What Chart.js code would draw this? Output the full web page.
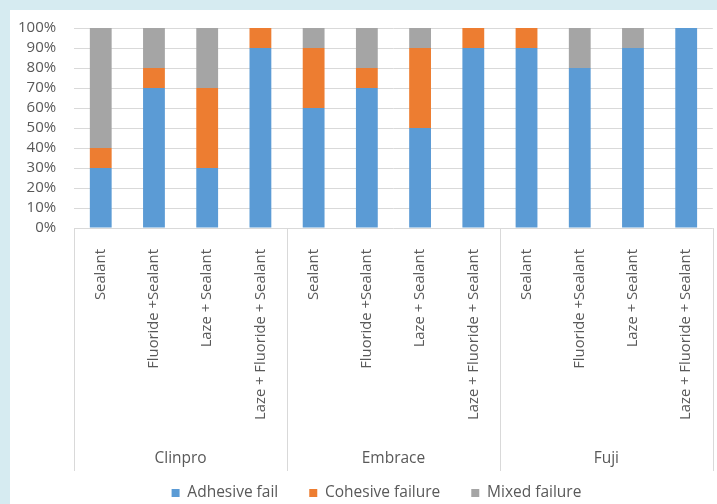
<!DOCTYPE html>
<html>
<head>
<meta charset="utf-8">
<script src="https://cdn.jsdelivr.net/npm/chart.js@4.4.1/dist/chart.umd.min.js"></script>
<style>
  html, body { margin: 0; padding: 0; background: #d6ebf1; width: 717px; height: 504px; overflow: hidden; }
  #wrap { position: absolute; left: 10px; top: 10px; width: 707px; height: 494px; background: #ffffff; }
</style>
</head>
<body>
<div id="wrap"><canvas id="c"></canvas></div>
<script>
// ---- data ----
const categories = [
  'Sealant', 'Fluoride +Sealant', 'Laze + Sealant', 'Laze + Fluoride + Sealant',
  'Sealant', 'Fluoride +Sealant', 'Laze + Sealant', 'Laze + Fluoride + Sealant',
  'Sealant', 'Fluoride +Sealant', 'Laze + Sealant', 'Laze + Fluoride + Sealant'
];
const groups = ['Clinpro', 'Embrace', 'Fuji'];
const adhesiveFail     = [30, 70, 30, 90, 60, 70, 50, 90, 90, 80, 90, 100];
const cohesiveFailure  = [10, 10, 40, 10, 30, 10, 40, 10, 10, 0, 0, 0];
const mixedFailure     = [60, 20, 30, 0, 10, 20, 10, 0, 0, 20, 10, 0];
const seriesNames = ['Adhesive fail', 'Cohesive failure', 'Mixed failure'];

// ---- style ----
const TEXT = '#595959';
const GRID = '#d9d9d9';
Chart.defaults.font.family = "'Open Sans', sans-serif";
Chart.defaults.font.size = 15.5;
Chart.defaults.color = TEXT;

const groupSeparators = {
  id: 'groupSeparators',
  afterLayout(chart) {
    // nudge the legend block to the right, as in the original
    if (chart.legend) { chart.legend.left += 19; }
  },
  afterDraw(chart) {
    const x2 = chart.scales.x2;
    const ctx = chart.ctx;
    const n = groups.length;
    const step = x2.width / n;
    const y0 = chart.chartArea.bottom;
    const y1 = x2.top + 38;
    ctx.save();
    ctx.strokeStyle = GRID;
    ctx.lineWidth = 1;
    for (let i = 0; i <= n; i++) {
      const px = Math.min(Math.round(x2.left + i * step) + 0.5, chart.width - 0.5);
      ctx.beginPath();
      ctx.moveTo(px, y0);
      ctx.lineTo(px, y1);
      ctx.stroke();
    }
    ctx.restore();
  }
};

new Chart(document.getElementById('c'), {
  type: 'bar',
  data: {
    labels: categories,
    datasets: [
      { label: seriesNames[0], data: adhesiveFail, backgroundColor: '#5b9bd5' },
      { label: seriesNames[1], data: cohesiveFailure, backgroundColor: '#ed7d31' },
      { label: seriesNames[2], data: mixedFailure, backgroundColor: '#a5a5a5' }
    ]
  },
  options: {
    responsive: true,
    maintainAspectRatio: false,
    animation: false,
    datasets: { bar: { categoryPercentage: 1.0, barPercentage: 0.41, borderWidth: 0 } },
    layout: { padding: { left: 8, right: 1, top: 18, bottom: -6.75 } },
    scales: {
      x: {
        stacked: true,
        grid: { display: false },
        border: { display: false },
        ticks: { minRotation: 90, maxRotation: 90, autoSkip: false, padding: 13, color: TEXT, font: { size: 14.8 } }
      },
      x2: {
        type: 'category',
        position: 'bottom',
        labels: groups,
        offset: true,
        grid: { display: false, drawTicks: false },
        border: { display: false },
        ticks: { mirror: true, padding: -35, maxRotation: 0, minRotation: 0, color: TEXT, font: { size: 15.5 } },
        afterFit(scale) { scale.height = 21.25; }
      },
      y: {
        stacked: true,
        min: 0,
        max: 100,
        grid: { color: GRID, drawTicks: true, tickLength: 18, tickColor: 'rgba(0,0,0,0)' },
        border: { display: false },
        ticks: { stepSize: 10, autoSkip: false, padding: 0, color: TEXT, font: { size: 15 }, callback: v => v + '%' }
      }
    },
    plugins: {
      tooltip: { enabled: false },
      legend: {
        position: 'bottom',
        labels: { boxWidth: 8, boxHeight: 8, padding: 31, color: TEXT, font: { size: 15.5 } }
      }
    }
  },
  plugins: [groupSeparators]
});
</script>
</body>
</html>
